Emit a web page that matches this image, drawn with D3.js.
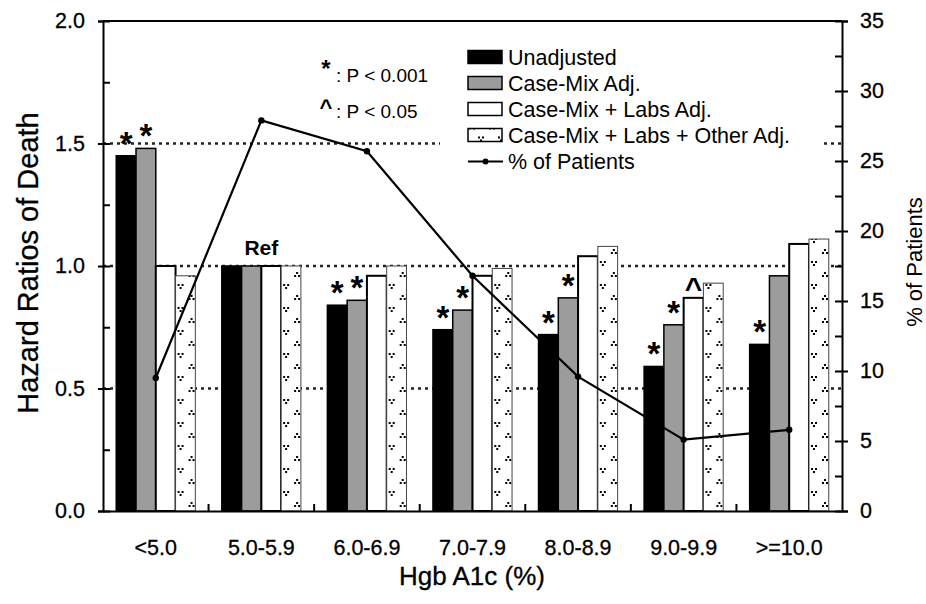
<!DOCTYPE html>
<html>
<head>
<meta charset="utf-8">
<script src="https://cdn.jsdelivr.net/npm/d3@7"></script>
<style>
  body { margin: 0; background: #fff; }
  svg { display: block; font-family: Arial, "Liberation Sans", Helvetica, sans-serif; }
</style>
</head>
<body>
<div id="chart"></div>
<script>
// chart data
var categories = ["<5.0", "5.0-5.9", "6.0-6.9", "7.0-7.9", "8.0-8.9", "9.0-9.9", ">=10.0"];
var seriesNames = ["Unadjusted", "Case-Mix Adj.", "Case-Mix + Labs Adj.", "Case-Mix + Labs + Other Adj."];
var unadjusted = [1.45, 1.0, 0.84, 0.74, 0.72, 0.59, 0.68];
var caseMix = [1.48, 1.0, 0.86, 0.82, 0.87, 0.76, 0.96];
var caseMixLabs = [1.0, 1.0, 0.96, 0.96, 1.04, 0.87, 1.09];
var caseMixLabsOther = [0.96, 1.0, 1.0, 0.99, 1.08, 0.93, 1.11];
var pctPatients = [9.5, 27.9, 25.7, 16.8, 9.6, 5.1, 5.8];
var leftTicks = [0, 0.5, 1.0, 1.5, 2.0];
var rightTicks = [0, 5, 10, 15, 20, 25, 30, 35];
// significance marks: [category index, series index, symbol]
var sigMarks = [
  [0, 0, "*"], [0, 1, "*"],
  [2, 0, "*"], [2, 1, "*"],
  [3, 0, "*"], [3, 1, "*"],
  [4, 0, "*"], [4, 1, "*"],
  [5, 0, "*"], [5, 1, "*"], [5, 2, "^"],
  [6, 0, "*"]
];

var width = 926;
var height = 604;
var plotLeft = 103, plotRight = 842, plotTop = 21, plotBottom = 511;

var seriesValues = [unadjusted, caseMix, caseMixLabs, caseMixLabsOther];
var fills = ["#000", "#9c9c9c", "#fff", "url(#dotsKey)"];

var svg = d3
  .select("#chart")
  .append("svg")
  .attr("width", width)
  .attr("height", height);

var x = d3.scaleBand().domain(categories).range([plotLeft, plotRight]).padding(0);
var xs = d3
  .scaleBand()
  .domain(d3.range(seriesNames.length))
  .range([0, x.bandwidth()])
  .paddingInner(0)
  .paddingOuter(0.67);
var y = d3.scaleLinear().domain([0, 2]).range([plotBottom, plotTop]);
var y2 = d3.scaleLinear().domain([0, 35]).range([plotBottom, plotTop]);

// dotted pattern ("v" and "^" clusters), one per bar so it lines up with the bar edge
var defs = svg.append("defs");
function makePattern(id, px, py) {
  var pat = defs
    .append("pattern")
    .attr("id", id)
    .attr("patternUnits", "userSpaceOnUse")
    .attr("x", px)
    .attr("y", py)
    .attr("width", 20)
    .attr("height", 23);
  pat.append("rect").attr("width", 20).attr("height", 23).attr("fill", "#fff");
  [[2, 3], [6, 3], [4, 6], [15, 14], [13, 17], [17, 17]].forEach(function (p) {
    pat.append("rect").attr("x", p[0]).attr("y", p[1]).attr("width", 2).attr("height", 2).attr("fill", "#000");
  });
}
categories.forEach(function (c, i) {
  makePattern("dots" + i, x(c) + xs(3), plotBottom);
});
makePattern("dotsKey", 468, 37);

// dotted reference lines
[0.5, 1.0, 1.5].forEach(function (v) {
  svg
    .append("line")
    .attr("x1", plotLeft)
    .attr("x2", plotRight)
    .attr("y1", y(v))
    .attr("y2", y(v))
    .attr("stroke", "#222")
    .attr("stroke-width", 2.5)
    .attr("stroke-dasharray", "3,4");
});

// bars
seriesValues.forEach(function (vals, si) {
  svg
    .append("g")
    .selectAll("rect")
    .data(vals)
    .enter()
    .append("rect")
    .attr("x", function (d, i) { return x(categories[i]) + xs(si); })
    .attr("y", function (d) { return y(d); })
    .attr("width", xs.bandwidth())
    .attr("height", function (d) { return plotBottom - y(d); })
    .attr("fill", function (d, i) { return si == 3 ? "url(#dots" + i + ")" : fills[si]; })
    .attr("stroke", si == 3 ? "#444" : "#000")
    .attr("stroke-width", si == 3 ? 1 : si == 2 ? 2 : 1.5);
});

// significance marks
svg
  .append("g")
  .selectAll("text")
  .data(sigMarks)
  .enter()
  .append("text")
  .attr("x", function (d) { return x(categories[d[0]]) + xs(d[1]) + xs.bandwidth() / 2; })
  .attr("y", function (d) { return y(seriesValues[d[1]][d[0]]) + (d[2] == "*" ? -1 : 0); })
  .attr("text-anchor", "middle")
  .attr("font-weight", "bold")
  .attr("font-size", function (d) { return d[2] == "*" ? 33 : 30; })
  .text(function (d) { return d[2]; });

svg
  .append("text")
  .attr("x", x(categories[1]) + x.bandwidth() / 2)
  .attr("y", y(1.0) - 11)
  .attr("text-anchor", "middle")
  .attr("font-weight", "bold")
  .attr("font-size", 21)
  .text("Ref");

// % of patients line
var line = d3
  .line()
  .x(function (d, i) { return x(categories[i]) + x.bandwidth() / 2; })
  .y(function (d) { return y2(d); });

svg
  .append("path")
  .datum(pctPatients)
  .attr("d", line)
  .attr("fill", "none")
  .attr("stroke", "#000")
  .attr("stroke-width", 2.2);

svg
  .append("g")
  .selectAll("circle")
  .data(pctPatients)
  .enter()
  .append("circle")
  .attr("cx", function (d, i) { return x(categories[i]) + x.bandwidth() / 2; })
  .attr("cy", function (d) { return y2(d); })
  .attr("r", 3.2)
  .attr("fill", "#000");

// legend
svg.append("rect").attr("x", 440).attr("y", 40).attr("width", 380).attr("height", 136).attr("fill", "#fff");
var legend = svg
  .selectAll(".legend")
  .data(seriesNames.concat(["% of Patients"]))
  .enter()
  .append("g")
  .attr("class", "legend")
  .attr("transform", function (d, i) {
    return "translate(468," + (64.5 + i * 26) + ")";
  });

legend
  .filter(function (d, i) { return i < 4; })
  .append("rect")
  .attr("x", 0)
  .attr("y", -14)
  .attr("width", 34)
  .attr("height", 13)
  .attr("fill", function (d, i) { return fills[i]; })
  .attr("stroke", "#000")
  .attr("stroke-width", 1.5);

var lastRow = legend.filter(function (d, i) { return i == 4; });
lastRow.append("line").attr("x1", 0).attr("x2", 35).attr("y1", -7).attr("y2", -7).attr("stroke", "#000").attr("stroke-width", 2);
lastRow.append("circle").attr("cx", 17.5).attr("cy", -7).attr("r", 3).attr("fill", "#000");

legend
  .append("text")
  .attr("x", 40)
  .attr("y", 0)
  .attr("font-size", 21.5)
  .text(function (d) { return d; });

// p-value key
svg.append("text").attr("x", 326).attr("y", 77).attr("text-anchor", "middle").attr("font-weight", "bold").attr("font-size", 24).text("*");
svg.append("text").attr("x", 336).attr("y", 82).attr("font-size", 19).text(": P < 0.001");
svg.append("text").attr("x", 326).attr("y", 115).attr("text-anchor", "middle").attr("font-weight", "bold").attr("font-size", 22).text("^");
svg.append("text").attr("x", 336).attr("y", 118).attr("font-size", 19).text(": P < 0.05");

// frame
svg.append("line").attr("x1", plotLeft).attr("x2", plotRight).attr("y1", plotTop).attr("y2", plotTop).attr("stroke", "#000").attr("stroke-width", 2);

// left axis
svg
  .append("g")
  .attr("transform", "translate(" + plotLeft + ",0)")
  .call(d3.axisLeft(y).tickValues(leftTicks).tickFormat(d3.format(".1f")).tickSize(5).tickPadding(13));
svg
  .append("g")
  .attr("transform", "translate(" + plotLeft + ",0)")
  .call(d3.axisRight(y).tickValues(d3.range(0, 2.01, 0.25)).tickSize(7).tickFormat(""))
  .select(".domain")
  .remove();

// right axis
svg
  .append("g")
  .attr("transform", "translate(" + plotRight + ",0)")
  .call(d3.axisRight(y2).tickValues(rightTicks).tickSize(6).tickPadding(12));
svg
  .append("g")
  .attr("transform", "translate(" + plotRight + ",0)")
  .call(d3.axisLeft(y2).tickValues(d3.range(0, 35.1, 2.5)).tickSize(7).tickFormat(""))
  .select(".domain")
  .remove();

// bottom axis
svg
  .append("g")
  .attr("transform", "translate(0," + plotBottom + ")")
  .call(d3.axisBottom(x).tickSize(0).tickPadding(29));
svg
  .append("g")
  .selectAll("line")
  .data(d3.range(1, categories.length))
  .enter()
  .append("line")
  .attr("x1", function (d) { return plotLeft + d * x.step(); })
  .attr("x2", function (d) { return plotLeft + d * x.step(); })
  .attr("y1", plotBottom)
  .attr("y2", plotBottom - 7)
  .attr("stroke", "#000")
  .attr("stroke-width", 2);

svg.selectAll(".domain").attr("stroke", "#000").attr("stroke-width", 2);
svg.selectAll(".tick line").attr("stroke", "#000").attr("stroke-width", 2);
svg
  .selectAll(".tick text")
  .attr("font-size", 21.5)
  .attr("font-family", "Arial, 'Liberation Sans', sans-serif")
  .attr("fill", "#000")
  .attr("stroke", "#000")
  .attr("stroke-width", 0.3);

// axis titles
svg
  .append("text")
  .attr("transform", "translate(38,263) rotate(-90)")
  .attr("text-anchor", "middle")
  .attr("font-size", 29)
  .attr("stroke", "#000")
  .attr("stroke-width", 0.3)
  .text("Hazard Ratios of Death");

svg
  .append("text")
  .attr("transform", "translate(922,262) rotate(-90)")
  .attr("text-anchor", "middle")
  .attr("font-size", 22)
  .text("% of Patients");

svg
  .append("text")
  .attr("x", 472)
  .attr("y", 585)
  .attr("text-anchor", "middle")
  .attr("font-size", 26)
  .attr("stroke", "#000")
  .attr("stroke-width", 0.3)
  .text("Hgb A1c (%)");
</script>
</body>
</html>
